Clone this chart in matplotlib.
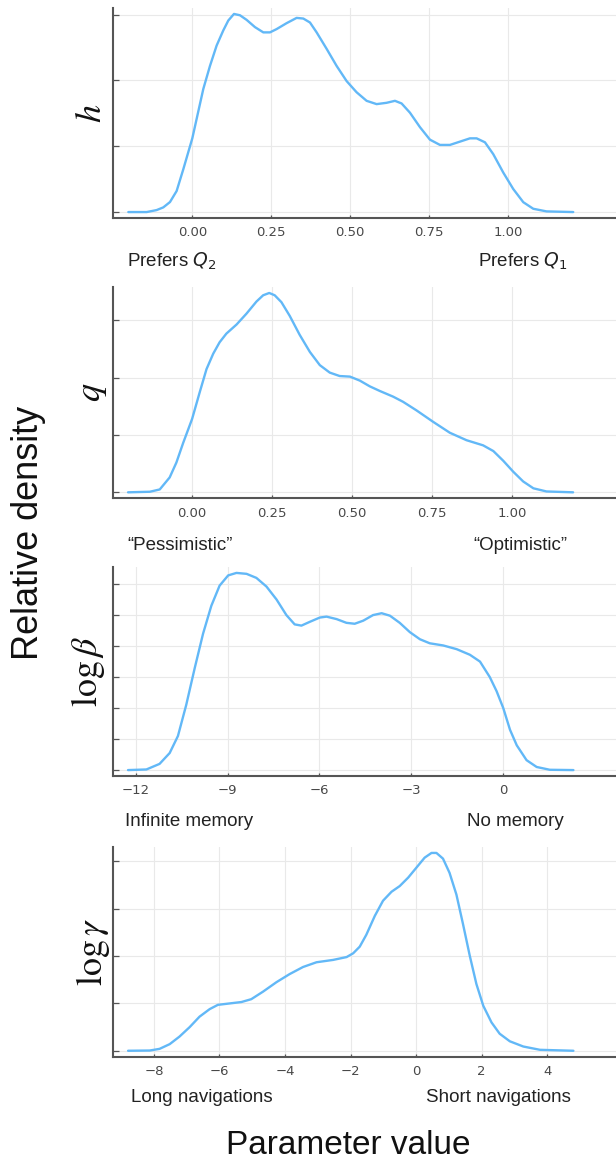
import numpy as np
import matplotlib
matplotlib.use("Agg")
import matplotlib.pyplot as plt

# ---- data (density in units of y-grid spacing) ----
h_x = [-0.2025, -0.1445, -0.1129, -0.0918, -0.0707, -0.0496, -0.0285, 0.0, 0.0348, 0.0559,
       0.077, 0.0981, 0.1139, 0.1319, 0.1508, 0.1719, 0.1983, 0.2247, 0.2458, 0.2669,
       0.2985, 0.3302, 0.3513, 0.3724, 0.3935, 0.4251, 0.4568, 0.4884, 0.52, 0.5517,
       0.5833, 0.615, 0.6414, 0.6624, 0.6888, 0.7205, 0.7521, 0.7838, 0.8154, 0.8471,
       0.8787, 0.8998, 0.9262, 0.9525, 0.9842, 1.0158, 1.0475, 1.0791, 1.1213, 1.2057]
h_y = [0.0, 0.0, 0.03, 0.071, 0.152, 0.32, 0.65, 1.12, 1.87, 2.22,
       2.53, 2.76, 2.91, 3.01, 2.99, 2.92, 2.81, 2.73, 2.73, 2.78,
       2.87, 2.95, 2.94, 2.88, 2.73, 2.48, 2.22, 1.99, 1.82, 1.69,
       1.64, 1.66, 1.69, 1.65, 1.51, 1.29, 1.10, 1.02, 1.02, 1.07,
       1.12, 1.12, 1.06, 0.88, 0.60, 0.35, 0.15, 0.05, 0.01, 0.0]

q_x = [-0.2, -0.132, -0.101, -0.07, -0.049, -0.028, 0.0, 0.024, 0.045, 0.066,
       0.086, 0.107, 0.139, 0.17, 0.201, 0.222, 0.241, 0.258, 0.279, 0.305,
       0.336, 0.368, 0.399, 0.43, 0.461, 0.493, 0.524, 0.555, 0.586, 0.628,
       0.659, 0.701, 0.753, 0.805, 0.857, 0.909, 0.941, 0.972, 1.003, 1.034,
       1.066, 1.107, 1.19]
q_y = [0.0, 0.01, 0.05, 0.26, 0.52, 0.86, 1.28, 1.75, 2.15, 2.42,
       2.62, 2.77, 2.93, 3.12, 3.33, 3.44, 3.48, 3.44, 3.32, 3.08,
       2.75, 2.45, 2.22, 2.09, 2.03, 2.02, 1.95, 1.85, 1.77, 1.67,
       1.58, 1.43, 1.23, 1.04, 0.91, 0.82, 0.72, 0.55, 0.36, 0.19,
       0.07, 0.015, 0.0]

b_x = [-12.25, -11.65, -11.22, -10.89, -10.62, -10.35, -10.07, -9.8, -9.53, -9.26,
       -8.98, -8.71, -8.38, -8.06, -7.73, -7.4, -7.08, -6.81, -6.59, -6.32,
       -5.99, -5.77, -5.44, -5.12, -4.85, -4.57, -4.25, -3.97, -3.7, -3.38,
       -3.05, -2.72, -2.4, -1.96, -1.52, -1.09, -0.76, -0.44, -0.22, 0.0,
       0.22, 0.44, 0.76, 1.09, 1.52, 2.29]
b_y = [0.0, 0.02, 0.2, 0.55, 1.1, 2.1, 3.3, 4.4, 5.3, 5.95,
       6.28, 6.36, 6.33, 6.2, 5.92, 5.5, 5.0, 4.7, 4.66, 4.78,
       4.92, 4.95, 4.87, 4.75, 4.72, 4.82, 5.0, 5.06, 4.98, 4.75,
       4.45, 4.22, 4.09, 4.02, 3.9, 3.72, 3.5, 3.0, 2.55, 2.0,
       1.3, 0.8, 0.32, 0.1, 0.01, 0.0]

g_x = [-8.79, -8.13, -7.83, -7.52, -7.22, -6.91, -6.61, -6.3, -6.05, -5.69,
       -5.33, -5.03, -4.67, -4.26, -3.86, -3.45, -3.04, -2.53, -2.12, -1.92,
       -1.72, -1.52, -1.26, -1.01, -0.75, -0.5, -0.24, 0.01, 0.26, 0.47,
       0.62, 0.82, 1.02, 1.23, 1.43, 1.64, 1.84, 2.05, 2.3, 2.55,
       2.86, 3.27, 3.78, 4.8]
g_y = [0.0, 0.005, 0.04, 0.14, 0.30, 0.50, 0.72, 0.88, 0.97, 1.0,
       1.03, 1.09, 1.25, 1.45, 1.62, 1.77, 1.87, 1.92, 1.98, 2.06,
       2.2, 2.45, 2.85, 3.17, 3.36, 3.48, 3.66, 3.87, 4.08, 4.18,
       4.18, 4.06, 3.76, 3.30, 2.68, 2.0, 1.41, 0.95, 0.60, 0.36,
       0.20, 0.09, 0.02, 0.0]

ylabels = [r"$h$", r"$q$", r"$\log\beta$", r"$\log\gamma$"]
xticks_list = [[0.0, 0.25, 0.5, 0.75, 1.0], [0.0, 0.25, 0.5, 0.75, 1.0],
               [-12, -9, -6, -3, 0], [-8, -6, -4, -2, 0, 2, 4]]
xticklabels_list = [["0.00", "0.25", "0.50", "0.75", "1.00"],
                    ["0.00", "0.25", "0.50", "0.75", "1.00"],
                    ["\u221212", "\u22129", "\u22126", "\u22123", "0"],
                    ["\u22128", "\u22126", "\u22124", "\u22122", "0", "2", "4"]]
left_notes = ["Prefers $Q_2$", "\u201cPessimistic\u201d", "Infinite memory", "Long navigations"]
right_notes = ["Prefers $Q_1$", "\u201cOptimistic\u201d", "No memory", "Short navigations"]
n_yticks = [3, 3, 6, 4]

series = [(h_x, h_y), (q_x, q_y), (b_x, b_y), (g_x, g_y)]

# ---- layout ----
W, H = 616, 1165
fig = plt.figure(figsize=(W / 100, H / 100), dpi=100)
boxes = [(8, 218), (287, 498.3), (567, 776), (847, 1056.7)]  # (top px, bottom px)
xlims = [(-0.251, 1.341), (-0.247, 1.324), (-12.74, 3.68), (-9.25, 6.1)]
note_y = [261, 545, 822, 1098]
note_left = [127, 127, 125, 131]
note_right = [568, 567, 564, 571]
ylab_x = [91, 92, 88, 93]

line_color = "#62b8f7"
spine_color = "#555555"
left_px = 113

for i, ((xs, ys), (tp, bp)) in enumerate(zip(series, boxes)):
    ax = fig.add_axes([left_px / W, 1 - bp / H, 1 - left_px / W, (bp - tp) / H])
    ax.plot(xs, ys, color=line_color, lw=1.7, solid_capstyle="round",
            solid_joinstyle="round")
    peak = max(ys)
    ax.set_ylim(-0.03 * peak, 1.03 * peak)
    ax.set_xlim(*xlims[i])
    ax.set_xticks(xticks_list[i])
    ax.set_xticklabels(xticklabels_list[i])
    ax.set_yticks(list(range(0, n_yticks[i] + 1)))
    ax.set_yticklabels([])
    for s in ["top", "right"]:
        ax.spines[s].set_visible(False)
    for s in ["left", "bottom"]:
        ax.spines[s].set_color(spine_color)
        ax.spines[s].set_linewidth(1.5)
    ax.grid(True, color="#e9e9e9", lw=0.8)
    ax.set_axisbelow(True)
    ax.tick_params(axis="y", direction="in", length=4, width=0.9, color=spine_color)
    ax.tick_params(axis="x", direction="in", length=2.5, width=0.9, color=spine_color,
                   labelsize=9.5, labelcolor="#484848", pad=6)
    yc = 1 - (tp + bp) / 2 / H
    fig.text(ylab_x[i] / W, yc, ylabels[i], rotation=90, ha="center", va="center",
             fontsize=26, math_fontfamily="stix", color="#111111")
    fig.text(note_left[i] / W, 1 - note_y[i] / H, left_notes[i], ha="left", va="center",
             fontsize=13.5, family="Liberation Sans", color="#222222")
    fig.text(note_right[i] / W, 1 - note_y[i] / H, right_notes[i], ha="right", va="center",
             fontsize=13.5, family="Liberation Sans", color="#222222")

fig.text(29 / W, 1 - 533 / H, "Relative density", rotation=90, ha="center", va="center",
         fontsize=26, family="Liberation Sans", color="#111111")
fig.text(348 / W, 1 - 1146 / H, "Parameter value", ha="center", va="center",
         fontsize=24, family="Liberation Sans", color="#111111")

fig.savefig("out.png", dpi=100)
